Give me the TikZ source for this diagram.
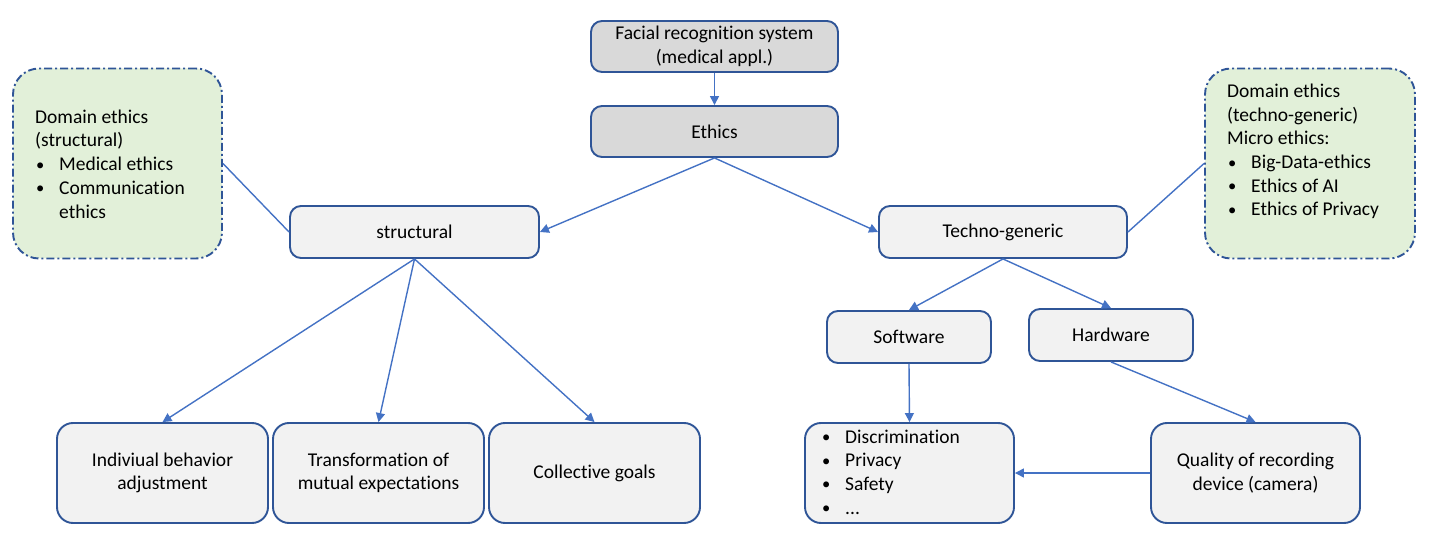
\documentclass[tikz,border=0pt]{standalone}
\usepackage{fontspec}
\setmainfont{Carlito}[Ligatures={NoCommon}]
\usetikzlibrary{arrows.meta}
\definecolor{bord}{HTML}{2F5597}
\definecolor{conn}{HTML}{4472C4}
\definecolor{lgray}{HTML}{F2F2F2}
\definecolor{dgray}{HTML}{D9D9D9}
\definecolor{lgreen}{HTML}{E2F0D9}
\newcommand{\bitem}[1]{\hspace*{1pt}\makebox[23pt][l]{\raisebox{0.5pt}{\scalebox{0.85}{•}}}#1}
\tikzset{
  box/.style={draw=bord, line width=1.9pt, fill=lgray, rounded corners=11pt, align=center, inner sep=0pt},
  topbox/.style={box, fill=dgray},
  bigbox/.style={box, rounded corners=16pt},
  greenbox/.style={draw=bord, line width=1.9pt, fill=lgreen, rounded corners=26pt, inner sep=0pt,
     dash pattern=on 8pt off 3pt on 2pt off 3pt},
  txt/.style={align=left, inner sep=0pt},
  conn/.style={draw=conn, line width=1.4pt},
  arr/.style={conn, -{Triangle[length=9pt,width=9pt]}},
}
\begin{document}
\begin{tikzpicture}[x=1pt,y=-1pt,font=\fontsize{19.5}{23.7}\selectfont]
\useasboundingbox (0,0) rectangle (1430,540);
% top boxes
\node[topbox, minimum width=247pt, minimum height=51pt] (frs) at (714.5,46.5) {Facial recognition system\\(medical appl.)};
\node[topbox, minimum width=247pt, minimum height=51pt] (eth) at (714.5,131.5) {Ethics};
\node[box, minimum width=249pt, minimum height=52pt] (str) at (414.5,232) {structural};
\node[box, minimum width=248pt, minimum height=52pt] (tec) at (1003,232) {Techno-generic};
% green boxes
\node[greenbox, minimum width=209pt, minimum height=190pt] (dl) at (117.5,163.5) {};
\node[txt, anchor=west] (dlt) at (35,164) {Domain ethics\\(structural)\\\bitem{Medical ethics}\\\bitem{Communication}\\\hspace*{24pt}ethics};
\node[greenbox, minimum width=210pt, minimum height=190pt] (dr) at (1310,163.5) {};
\node[txt, anchor=west] (drt) at (1227,151.5) {Domain ethics\\(techno-generic)\\Micro ethics:\\\bitem{Big-Data-ethics}\\\bitem{Ethics of AI}\\\bitem{Ethics of Privacy}};
% software/hardware
\node[box, minimum width=164pt, minimum height=52pt] (sw) at (909,337) {Software};
\node[box, minimum width=164pt, minimum height=52pt] (hw) at (1111,335) {Hardware};
% bottom
\node[bigbox, minimum width=211pt, minimum height=100pt] (ind) at (162.5,473) {Indiviual behavior\\adjustment};
\node[bigbox, minimum width=211pt, minimum height=100pt] (trn) at (378.5,473) {Transformation of\\mutual expectations};
\node[bigbox, minimum width=211pt, minimum height=100pt] (col) at (594.5,473) {Collective goals};
\node[bigbox, minimum width=209pt, minimum height=100pt] (dis) at (909.5,473) {};
\node[txt, anchor=west] (dist) at (821,472) {\bitem{Discrimination}\\\bitem{Privacy}\\\bitem{Safety}\\\bitem{...}};
\node[bigbox, minimum width=209pt, minimum height=100pt] (qual) at (1255.5,473) {Quality of recording\\device (camera)};
% connectors
\draw[arr] (frs.south) -- (eth.north);
\draw[arr] (eth.south) -- (str.east);
\draw[arr] (eth.south) -- (tec.west);
\draw[conn] (dl.east) -- (str.west);
\draw[conn] (tec.east) -- (dr.west);
\draw[arr] (str.south) -- (ind.north);
\draw[arr] (str.south) -- (trn.north);
\draw[arr] (str.south) -- (col.north);
\draw[arr] (tec.south) -- (sw.north);
\draw[arr] (tec.south) -- (hw.north);
\draw[arr] (sw.south) -- (dis.north);
\draw[arr] (hw.south) -- (qual.north);
\draw[arr] (qual.west) -- (dis.east);
\end{tikzpicture}
\end{document}
